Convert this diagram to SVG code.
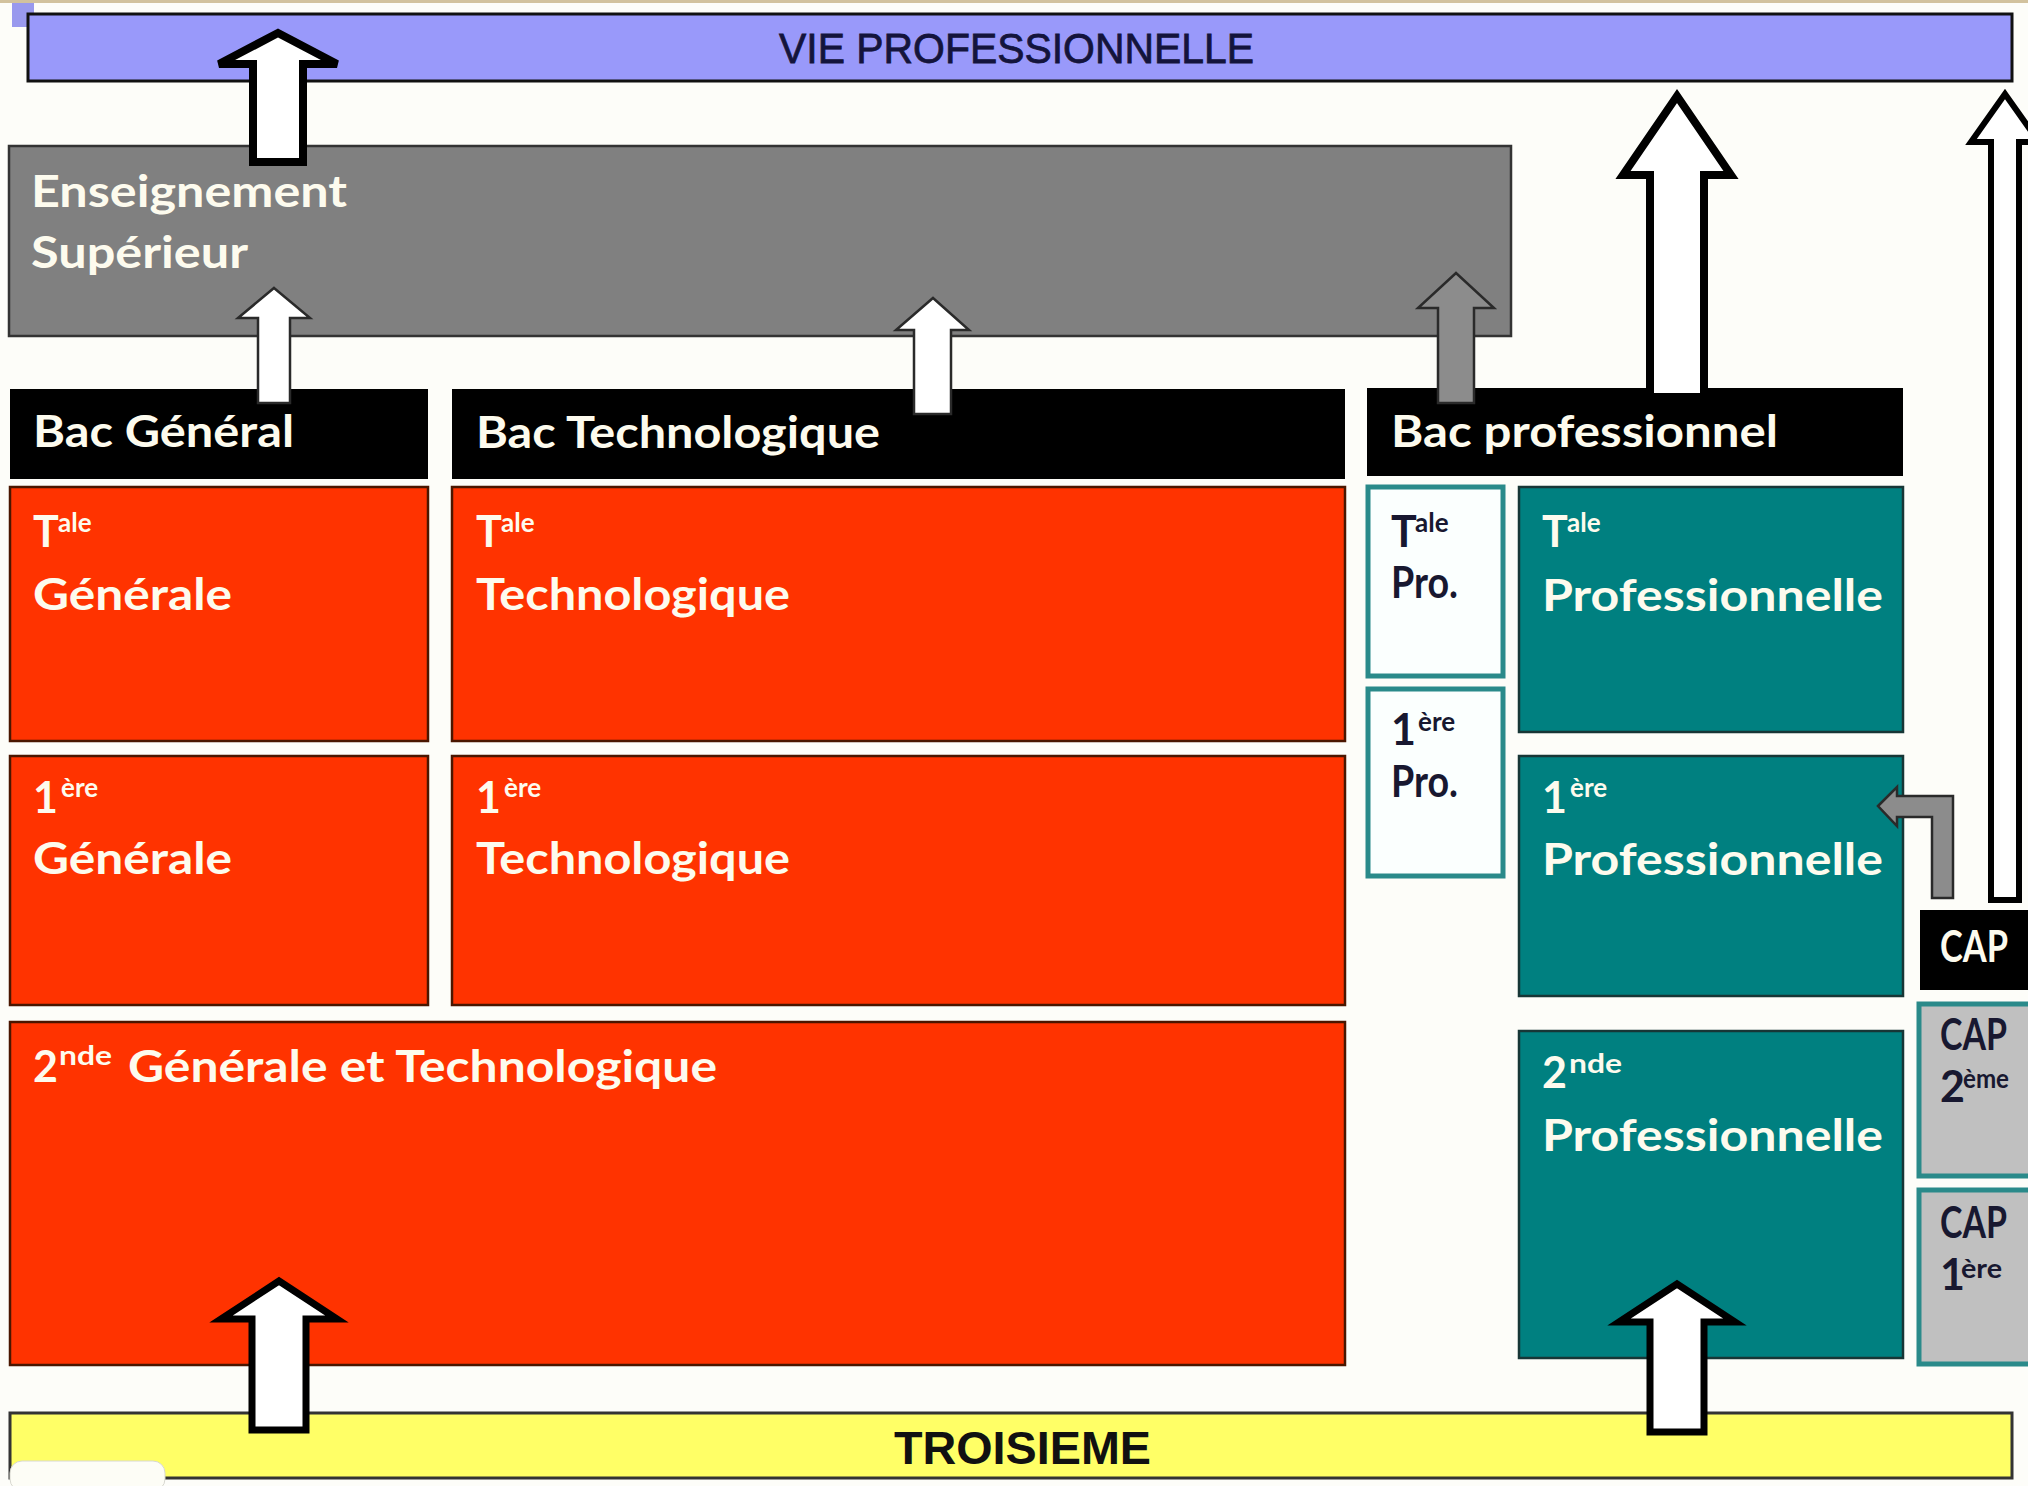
<svg xmlns="http://www.w3.org/2000/svg" width="2028" height="1486" viewBox="0 0 2028 1486">
<defs>
<style>
.lbl{font-family:Lato,"Open Sans","Liberation Sans",sans-serif;font-weight:700;fill:#fdfbee;font-size:43px}
.sup{font-family:Lato,"Open Sans","Liberation Sans",sans-serif;font-weight:700;fill:#fdfbee;font-size:26px}
.dk{fill:#181830}
.red{fill:#ff3300;stroke:#4a1600;stroke-width:2.5}
.teal{fill:#008080;stroke:#173636;stroke-width:2.5}
.tbox{fill:#fbfffe;stroke:#2a8a8a;stroke-width:5}
.gbox{fill:#c0c0c0;stroke:#2a8a8a;stroke-width:5}
.blk{fill:#000}
.arrT{fill:#ffffff;stroke:#000;stroke-width:8;stroke-linejoin:miter}
.arrt{fill:#ffffff;stroke:#2a2a2a;stroke-width:2.5;stroke-linejoin:miter}
.arrg{fill:#8c8c8c;stroke:#2a2a2a;stroke-width:2.5;stroke-linejoin:miter}
</style>
</defs>
<rect x="0" y="0" width="2028" height="1486" fill="#fdfdf9"/>
<rect x="0" y="0" width="2028" height="3" fill="#d2c29e"/>
<rect x="12" y="3" width="22" height="24" fill="#9999ee"/>

<g id="vie">
<rect x="28" y="14" width="1984" height="67" fill="#9999fa" stroke="#111" stroke-width="3"/>
<text x="779" y="63" font-family="'Liberation Sans',Arial,sans-serif" font-size="43" fill="#14143c" stroke="#14143c" stroke-width="0.8" textLength="475" lengthAdjust="spacingAndGlyphs">VIE PROFESSIONNELLE</text>
</g>

<g id="superieur">
<rect x="9" y="146" width="1502" height="190" fill="#808080" stroke="#333" stroke-width="2.5"/>
<text class="lbl" x="31" y="207" textLength="316" lengthAdjust="spacingAndGlyphs">Enseignement</text>
<text class="lbl" x="31" y="268" textLength="217" lengthAdjust="spacingAndGlyphs">Supérieur</text>
</g>

<g id="bac-general">
<rect class="blk" x="10" y="389" width="418" height="90"/>
<text class="lbl" x="33" y="447" textLength="261" lengthAdjust="spacingAndGlyphs">Bac Général</text>
</g>
<g id="bac-techno">
<rect class="blk" x="452" y="389" width="893" height="90"/>
<text class="lbl" x="476" y="448" textLength="404" lengthAdjust="spacingAndGlyphs">Bac Technologique</text>
</g>
<g id="bac-pro">
<rect class="blk" x="1367" y="388" width="536" height="88"/>
<text class="lbl" x="1391" y="447" textLength="387" lengthAdjust="spacingAndGlyphs">Bac professionnel</text>
</g>

<g id="tale-generale">
<rect class="red" x="10" y="487" width="418" height="254"/>
<text class="lbl" x="33" y="547">T</text>
<text class="sup" x="58" y="532">ale</text>
<text class="lbl" x="33" y="610" textLength="199" lengthAdjust="spacingAndGlyphs">Générale</text>
</g>
<g id="premiere-generale">
<rect class="red" x="10" y="756" width="418" height="249"/>
<text class="lbl" x="33" y="813">1</text>
<text class="sup" x="61" y="797">ère</text>
<text class="lbl" x="33" y="874" textLength="199" lengthAdjust="spacingAndGlyphs">Générale</text>
</g>
<g id="tale-techno">
<rect class="red" x="452" y="487" width="893" height="254"/>
<text class="lbl" x="476" y="547">T</text>
<text class="sup" x="501" y="532">ale</text>
<text class="lbl" x="476" y="610" textLength="314" lengthAdjust="spacingAndGlyphs">Technologique</text>
</g>
<g id="premiere-techno">
<rect class="red" x="452" y="756" width="893" height="249"/>
<text class="lbl" x="476" y="813">1</text>
<text class="sup" x="504" y="797">ère</text>
<text class="lbl" x="476" y="874" textLength="314" lengthAdjust="spacingAndGlyphs">Technologique</text>
</g>
<g id="seconde-gt">
<rect class="red" x="10" y="1022" width="1335" height="343"/>
<text class="lbl" x="33" y="1082">2</text>
<text class="sup" x="59" y="1065" textLength="53" lengthAdjust="spacingAndGlyphs">nde</text>
<text class="lbl" x="128" y="1082" textLength="589" lengthAdjust="spacingAndGlyphs">Générale et Technologique</text>
</g>

<g id="tale-pro-court">
<rect class="tbox" x="1368" y="487" width="135" height="189"/>
<text class="lbl dk" x="1391" y="547" font-size="40">T</text>
<text class="sup dk" x="1415" y="532" font-size="25">ale</text>
<text class="lbl dk" x="1391" y="598" font-size="31" textLength="67" lengthAdjust="spacingAndGlyphs">Pro.</text>
</g>
<g id="premiere-pro-court">
<rect class="tbox" x="1368" y="689" width="135" height="187"/>
<text class="lbl dk" x="1391" y="745" font-size="40">1</text>
<text class="sup dk" x="1418" y="731" font-size="25">ère</text>
<text class="lbl dk" x="1391" y="797" font-size="31" textLength="67" lengthAdjust="spacingAndGlyphs">Pro.</text>
</g>

<g id="tale-pro">
<rect class="teal" x="1519" y="487" width="384" height="245"/>
<text class="lbl" x="1542" y="547">T</text>
<text class="sup" x="1567" y="532">ale</text>
<text class="lbl" x="1542" y="611" textLength="341" lengthAdjust="spacingAndGlyphs">Professionnelle</text>
</g>
<g id="premiere-pro">
<rect class="teal" x="1519" y="756" width="384" height="240"/>
<text class="lbl" x="1542" y="813">1</text>
<text class="sup" x="1570" y="797">ère</text>
<text class="lbl" x="1542" y="875" textLength="341" lengthAdjust="spacingAndGlyphs">Professionnelle</text>
</g>
<g id="seconde-pro">
<rect class="teal" x="1519" y="1031" width="384" height="327"/>
<text class="lbl" x="1542" y="1088">2</text>
<text class="sup" x="1569" y="1073" textLength="53" lengthAdjust="spacingAndGlyphs">nde</text>
<text class="lbl" x="1542" y="1151" textLength="341" lengthAdjust="spacingAndGlyphs">Professionnelle</text>
</g>

<g id="cap">
<rect class="blk" x="1920" y="910" width="110" height="80"/>
<text class="lbl" x="1940" y="962" font-size="31" textLength="68" lengthAdjust="spacingAndGlyphs">CAP</text>
</g>
<g id="cap-2eme">
<rect class="gbox" x="1919" y="1004" width="115" height="172"/>
<text class="lbl dk" x="1940" y="1050" font-size="31" textLength="67" lengthAdjust="spacingAndGlyphs">CAP</text>
<text class="lbl dk" x="1940" y="1102" font-size="31">2</text>
<text class="sup dk" x="1963" y="1088" font-size="20" textLength="46" lengthAdjust="spacingAndGlyphs">ème</text>
</g>
<g id="cap-1ere">
<rect class="gbox" x="1919" y="1190" width="115" height="174"/>
<text class="lbl dk" x="1940" y="1238" font-size="31" textLength="67" lengthAdjust="spacingAndGlyphs">CAP</text>
<text class="lbl dk" x="1940" y="1290" font-size="31">1</text>
<text class="sup dk" x="1961" y="1278" font-size="20" textLength="41" lengthAdjust="spacingAndGlyphs">ère</text>
</g>

<g id="troisieme">
<rect x="10" y="1413" width="2002" height="65" fill="#ffff66" stroke="#333" stroke-width="3"/>
<text x="894" y="1464" font-family="'Liberation Sans',Arial,sans-serif" font-weight="700" font-size="46" fill="#111" textLength="257" lengthAdjust="spacingAndGlyphs">TROISIEME</text>
</g>

<rect x="10" y="1461" width="155" height="30" rx="12" fill="#fdfdf6" stroke="#d8d8d0" stroke-width="1"/>

<g id="connectors">
<polygon class="arrT" points="278,33 337,64 303,64 303,162 253,162 253,64 219,64"/>
<polygon class="arrt" points="274,288 310,318 290,318 290,403 258,403 258,318 238,318"/>
<polygon class="arrt" points="933,298 969,330 951,330 951,414 914,414 914,330 896,330"/>
<polygon class="arrg" points="1456,273 1494,308 1474,308 1474,403 1438,403 1438,308 1418,308"/>
<polygon class="arrT" points="1677,96 1731,175 1704,175 1704,397 1650,397 1650,175 1623,175"/>
<polygon class="arrT" style="stroke-width:6" points="2005,94 2039,142 2019,142 2019,900 1991,900 1991,142 1971,142"/>
<path class="arrg" d="M1878,806 L1897,787 L1897,796 L1953,796 L1953,898 L1932,898 L1932,817 L1897,817 L1897,826 Z"/>
<polygon class="arrT" style="stroke-width:7" points="279,1281 337,1319 306,1319 306,1430 252,1430 252,1319 221,1319"/>
<polygon class="arrT" style="stroke-width:7" points="1677,1284 1735,1322 1704,1322 1704,1432 1650,1432 1650,1322 1619,1322"/>
</g>
</svg>
